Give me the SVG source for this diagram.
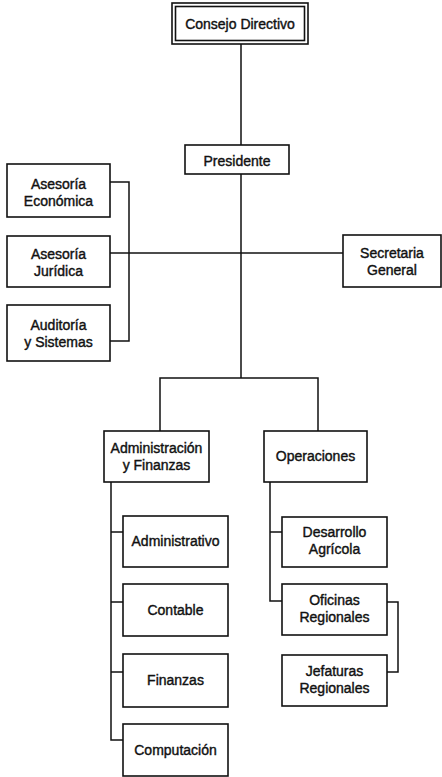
<svg xmlns="http://www.w3.org/2000/svg" width="442" height="777" viewBox="0 0 442 777">
  <style>
    .box { fill: #ffffff; stroke: #111111; stroke-width: 1.6; }
    .wire { fill: none; stroke: #111111; stroke-width: 1.5; }
    text { font-family: "Liberation Sans", Arial, sans-serif; font-size: 14px; fill: #111111; stroke: #111111; stroke-width: 0.4; text-anchor: middle; }
  </style>
  <rect width="442" height="777" fill="#ffffff"/>

  <!-- connectors -->
  <g id="connectors">
    <path class="wire" d="M241 44 V145 M241 174 V378"/>
    <path class="wire" d="M110 253 H343"/>
    <path class="wire" d="M110 182 H129 V341 H110"/>
    <path class="wire" d="M160 431 V378 H318 V431"/>
    <path class="wire" d="M111 482 V740 H123 M111 532 H123 M111 602 H123 M111 672 H123"/>
    <path class="wire" d="M270 482 V601 H282 M270 532 H282"/>
    <path class="wire" d="M387 602 H398 V672 H387"/>
  </g>

  <!-- top board, double frame -->
  <g id="consejo">
    <rect class="box" x="172" y="3" width="136" height="41" stroke-width="2"/>
    <rect class="box" x="175.5" y="6.5" width="129" height="34" stroke-width="1.3"/>
    <text x="240" y="28.5">Consejo Directivo</text>
  </g>

  <g id="presidente">
    <rect class="box" x="185" y="145" width="104" height="29"/>
    <text x="237" y="166">Presidente</text>
  </g>

  <g id="asesoria-economica">
    <rect class="box" x="7" y="164" width="103" height="53"/>
    <text x="58.5" y="189">Asesoría</text>
    <text x="58.5" y="206">Económica</text>
  </g>

  <g id="asesoria-juridica">
    <rect class="box" x="7" y="236" width="103" height="51"/>
    <text x="58.5" y="259">Asesoría</text>
    <text x="58.5" y="276">Jurídica</text>
  </g>

  <g id="auditoria">
    <rect class="box" x="7" y="305" width="103" height="56"/>
    <text x="58.5" y="330">Auditoría</text>
    <text x="58.5" y="347">y Sistemas</text>
  </g>

  <g id="secretaria">
    <rect class="box" x="343" y="235" width="98" height="52"/>
    <text x="392" y="258">Secretaria</text>
    <text x="392" y="275">General</text>
  </g>

  <g id="administracion">
    <rect class="box" x="104" y="431" width="105" height="51"/>
    <text x="156.5" y="453">Administración</text>
    <text x="156.5" y="470">y Finanzas</text>
  </g>

  <g id="operaciones">
    <rect class="box" x="264" y="431" width="103" height="51"/>
    <text x="315.5" y="461">Operaciones</text>
  </g>

  <g id="administrativo">
    <rect class="box" x="123" y="516" width="105" height="51"/>
    <text x="175.5" y="546">Administrativo</text>
  </g>

  <g id="contable">
    <rect class="box" x="123" y="584" width="105" height="52"/>
    <text x="175.5" y="615">Contable</text>
  </g>

  <g id="finanzas">
    <rect class="box" x="123" y="654" width="105" height="53"/>
    <text x="175.5" y="685">Finanzas</text>
  </g>

  <g id="computacion">
    <rect class="box" x="123" y="724" width="105" height="52"/>
    <text x="175.5" y="755">Computación</text>
  </g>

  <g id="desarrollo">
    <rect class="box" x="282" y="517" width="105" height="50"/>
    <text x="334.5" y="537">Desarrollo</text>
    <text x="334.5" y="554">Agrícola</text>
  </g>

  <g id="oficinas">
    <rect class="box" x="282" y="584" width="105" height="51"/>
    <text x="334.5" y="605">Oficinas</text>
    <text x="334.5" y="622">Regionales</text>
  </g>

  <g id="jefaturas">
    <rect class="box" x="282" y="655" width="105" height="51"/>
    <text x="334.5" y="676">Jefaturas</text>
    <text x="334.5" y="693">Regionales</text>
  </g>
</svg>
